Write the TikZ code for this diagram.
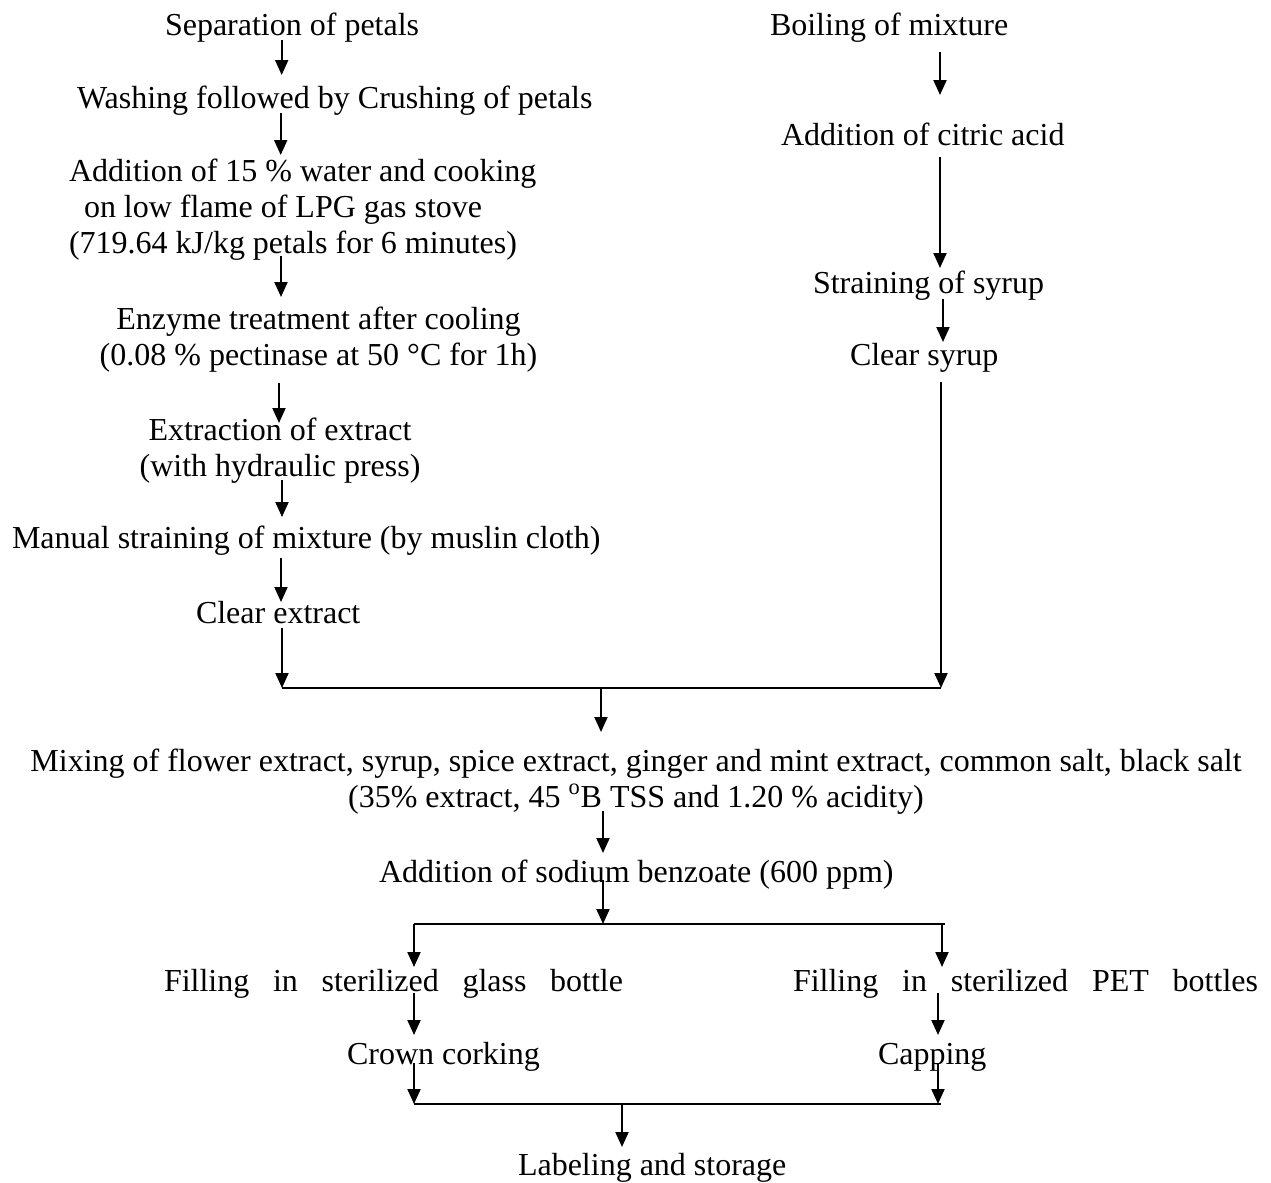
\documentclass[tikz,border=0pt]{standalone}
\usepackage{fontspec}
\setmainfont{Liberation Serif}
\usetikzlibrary{arrows.meta}
\begin{document}
\begin{tikzpicture}[x=0.5pt,y=-0.5pt,
  every node/.style={inner sep=0pt,outer sep=0pt,font=\fontsize{16}{18}\selectfont},
  txt/.style={anchor=base west},
  ctr/.style={anchor=base,align=center},
  arr/.style={line width=1pt,-{Triangle[length=7.5pt,width=6.5pt]}},
  ln/.style={line width=1pt}]
\useasboundingbox (0,0) rectangle (1271,1183);
% ---- text nodes (multi-line nodes are placed by their last baseline)
\node[txt] (sep) at (165,35) {Separation of petals};
\node[txt] (wash) at (77,108) {Washing followed by Crushing of petals};
\node[txt,align=left] (add) at (69,253) {Addition of 15 \% water and cooking\\\hspace*{7.5pt}on low flame of LPG gas stove\\(719.64 kJ/kg petals for 6 minutes)};
\node[ctr] (enz) at (318.5,365) {Enzyme treatment after cooling\\(0.08 \% pectinase at 50 °C for 1h)};
\node[ctr] (ext) at (280,476) {Extraction of extract\\(with hydraulic press)};
\node[txt] (man) at (12,548) {Manual straining of mixture (by muslin cloth)};
\node[txt] (cle) at (196,623) {Clear extract};
\node[txt] (boil) at (770,35) {Boiling of mixture};
\node[txt] (cit) at (781,145) {Addition of citric acid};
\node[txt] (strs) at (813,293) {Straining of syrup};
\node[txt] (cls) at (850,365) {Clear syrup};
\node[ctr] (mix) at (636,807) {Mixing of flower extract, syrup, spice extract, ginger and mint extract, common salt, black salt\\(35\% extract, 45 \textsuperscript{o}B TSS and 1.20 \% acidity)};
\node[txt] (benz) at (379,882) {Addition of sodium benzoate (600 ppm)};
\node[txt] (glass) at (164,991) {\makebox[229.5pt][l]{Filling\hfill in\hfill sterilized\hfill glass\hfill bottle}};
\node[txt] (pet) at (793,991) {\makebox[232.5pt][l]{Filling\hfill in\hfill sterilized\hfill PET\hfill bottles}};
\node[txt] (crown) at (347,1064) {Crown corking};
\node[txt] (cap) at (878,1064) {Capping};
\node[txt] (lab) at (518,1175) {Labeling and storage};
% ---- connector end points
\foreach \n/\x/\y in {
  l1a/281.7/40, l1b/281.7/75, l2a/280.7/113, l2b/280.7/155,
  l3a/281/256, l3b/281/297, l4a/279/383, l4b/279/423,
  l5a/282/480, l5b/282/517, l6a/281/558, l6b/281/602,
  l7a/282/628, jL/282/688,
  r1a/940/52, r1b/940/95, r2a/940/157, r2b/940/268,
  r3a/943/299, r3b/943/342, r4a/941/382, jR/941/688,
  jM/601/688, m1b/601/732, m2a/603/811, m2b/603/853,
  m3a/603/880, sM/603/924, sL/414/924, sR/942/924,
  fLb/414/967, fRb/942/967,
  gLa/414/993, gLb/414/1035, gRa/938/993, gRb/938/1035,
  hLa/414/1063, kL/414/1104, hRa/938/1063, kR/938/1104,
  kM/622/1104, kMb/622/1147}
  \coordinate (\n) at (\x,\y);
% ---- left column
\draw[arr] (l1a) -- (l1b);
\draw[arr] (l2a) -- (l2b);
\draw[arr] (l3a) -- (l3b);
\draw[arr] (l4a) -- (l4b);
\draw[arr] (l5a) -- (l5b);
\draw[arr] (l6a) -- (l6b);
\draw[arr] (l7a) -- (jL);
% ---- right column
\draw[arr] (r1a) -- (r1b);
\draw[arr] (r2a) -- (r2b);
\draw[arr] (r3a) -- (r3b);
\draw[arr] (r4a) -- (jR);
% ---- join and mixing
\draw[ln] (jL) -- (jR);
\draw[arr] (jM) -- (m1b);
\draw[arr] (m2a) -- (m2b);
\draw[arr] (m3a) -- (sM);
% ---- split
\draw[ln] (sL) -- ([xshift=1.5pt]sR);
\draw[arr] (sL) -- (fLb);
\draw[arr] (sR) -- (fRb);
\draw[arr] (gLa) -- (gLb);
\draw[arr] (gRa) -- (gRb);
\draw[arr] (hLa) -- (kL);
\draw[arr] (hRa) -- (kR);
\draw[ln] (kL) -- ([xshift=1.5pt]kR);
\draw[arr] (kM) -- (kMb);
\end{tikzpicture}
\end{document}
